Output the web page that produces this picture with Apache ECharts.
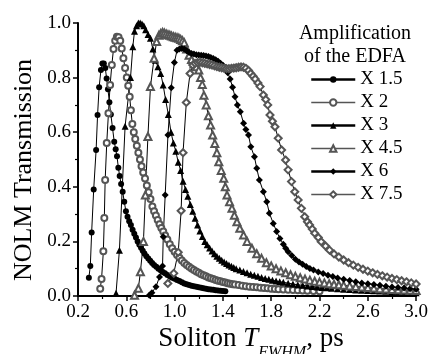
<!DOCTYPE html>
<html>
<head>
<meta charset="utf-8">
<script src="https://cdn.jsdelivr.net/npm/echarts@6/dist/echarts.min.js"></script>
<style>html,body{margin:0;background:#fff}#c{width:431px;height:354px}</style>
</head>
<body>
<div id="c"></div>
<script>
const FONT = '"Liberation Serif", "Times New Roman", serif'

// [T_FWHM (ps), transmission]
const s15 = [[0.29,0.067],[0.302,0.11],[0.313,0.233],[0.33,0.39],[0.35,0.535],[0.362,0.663],[0.375,0.765],[0.39,0.828],[0.402,0.852],[0.414,0.852],[0.426,0.835],[0.437,0.797],[0.448,0.757],[0.46,0.71],[0.472,0.665],[0.486,0.615],[0.5,0.565],[0.512,0.538],[0.523,0.512],[0.534,0.47],[0.545,0.44],[0.557,0.41],[0.57,0.382],[0.583,0.345],[0.597,0.31],[0.61,0.29],[0.624,0.274],[0.638,0.26],[0.652,0.243],[0.666,0.228],[0.68,0.214],[0.694,0.2],[0.708,0.188],[0.722,0.177],[0.736,0.166],[0.75,0.156],[0.766,0.146],[0.782,0.137],[0.798,0.129],[0.814,0.121],[0.83,0.114],[0.848,0.107],[0.866,0.1],[0.884,0.094],[0.902,0.088],[0.92,0.083],[0.94,0.077],[0.96,0.072],[0.98,0.067],[1.0,0.063],[1.02,0.059],[1.04,0.055],[1.06,0.05],[1.08,0.046],[1.1,0.043],[1.12,0.04],[1.14,0.038],[1.16,0.036],[1.18,0.034],[1.2,0.032],[1.22,0.03],[1.24,0.028],[1.26,0.027],[1.28,0.025],[1.3,0.024],[1.32,0.023],[1.34,0.021],[1.36,0.02],[1.38,0.019],[1.4,0.018],[1.42,0.017]]
const s2 = [[0.384,0.027],[0.395,0.062],[0.41,0.164],[0.418,0.286],[0.425,0.425],[0.438,0.56],[0.452,0.669],[0.466,0.773],[0.48,0.846],[0.494,0.905],[0.508,0.935],[0.522,0.95],[0.536,0.948],[0.55,0.935],[0.562,0.907],[0.576,0.871],[0.59,0.835],[0.604,0.8],[0.616,0.77],[0.628,0.73],[0.638,0.68],[0.65,0.63],[0.662,0.6],[0.674,0.575],[0.687,0.55],[0.7,0.525],[0.713,0.5],[0.726,0.475],[0.74,0.452],[0.755,0.43],[0.77,0.405],[0.785,0.38],[0.8,0.355],[0.816,0.328],[0.83,0.31],[0.845,0.295],[0.86,0.278],[0.875,0.263],[0.89,0.249],[0.906,0.236],[0.922,0.222],[0.94,0.207],[0.96,0.19],[0.98,0.175],[1.0,0.162],[1.02,0.15],[1.04,0.14],[1.06,0.13],[1.08,0.121],[1.1,0.114],[1.12,0.107],[1.14,0.101],[1.16,0.095],[1.18,0.09],[1.2,0.085],[1.22,0.08],[1.24,0.076],[1.26,0.072],[1.28,0.068],[1.3,0.065],[1.32,0.062],[1.34,0.059],[1.36,0.056],[1.38,0.054],[1.4,0.051],[1.42,0.049],[1.44,0.047],[1.46,0.045],[1.48,0.043],[1.5,0.042],[1.53,0.04],[1.56,0.038],[1.59,0.036],[1.62,0.034],[1.65,0.033],[1.68,0.032],[1.71,0.03],[1.74,0.029],[1.77,0.028],[1.8,0.027],[1.83,0.026],[1.86,0.025],[1.9,0.024],[1.94,0.023],[1.98,0.022],[2.02,0.021],[2.06,0.02],[2.1,0.019],[2.15,0.018],[2.2,0.017]]
const s3 = [[0.515,0.01],[0.543,0.168],[0.59,0.622],[0.635,0.8],[0.654,0.913],[0.668,0.97],[0.685,0.99],[0.7,1.0],[0.715,1.0],[0.73,0.996],[0.745,0.99],[0.76,0.975],[0.78,0.958],[0.8,0.944],[0.82,0.905],[0.84,0.864],[0.862,0.84],[0.885,0.815],[0.905,0.773],[0.925,0.72],[0.948,0.665],[0.97,0.6],[0.99,0.56],[1.01,0.53],[1.03,0.49],[1.05,0.46],[1.07,0.42],[1.09,0.39],[1.11,0.365],[1.13,0.335],[1.15,0.31],[1.17,0.285],[1.19,0.26],[1.21,0.238],[1.23,0.218],[1.25,0.2],[1.27,0.188],[1.29,0.176],[1.31,0.165],[1.33,0.155],[1.35,0.146],[1.37,0.138],[1.39,0.131],[1.41,0.125],[1.43,0.119],[1.45,0.114],[1.47,0.109],[1.49,0.104],[1.51,0.1],[1.54,0.095],[1.57,0.09],[1.6,0.085],[1.63,0.08],[1.66,0.076],[1.69,0.072],[1.72,0.068],[1.75,0.064],[1.78,0.061],[1.81,0.058],[1.84,0.055],[1.87,0.052],[1.9,0.05],[1.94,0.047],[1.98,0.044],[2.02,0.041],[2.06,0.039],[2.1,0.037],[2.14,0.035],[2.18,0.033],[2.22,0.031],[2.26,0.03],[2.3,0.028],[2.35,0.027],[2.4,0.025],[2.45,0.024],[2.5,0.022],[2.55,0.021],[2.6,0.02],[2.65,0.019],[2.7,0.018],[2.75,0.017],[2.8,0.016],[2.85,0.015],[2.9,0.014],[2.95,0.013],[3.0,0.012]]
const s45 = [[0.668,0.003],[0.7,0.028],[0.717,0.089],[0.742,0.2],[0.758,0.37],[0.779,0.584],[0.8,0.767],[0.83,0.871],[0.851,0.932],[0.87,0.955],[0.885,0.962],[0.9,0.965],[0.915,0.963],[0.93,0.96],[0.945,0.957],[0.96,0.955],[0.975,0.952],[0.99,0.95],[1.005,0.948],[1.02,0.946],[1.035,0.944],[1.05,0.94],[1.065,0.935],[1.08,0.928],[1.1,0.905],[1.12,0.882],[1.14,0.866],[1.16,0.85],[1.18,0.84],[1.2,0.828],[1.215,0.8],[1.229,0.775],[1.243,0.735],[1.262,0.7],[1.28,0.66],[1.298,0.626],[1.315,0.59],[1.333,0.559],[1.35,0.525],[1.366,0.492],[1.386,0.46],[1.407,0.431],[1.42,0.4],[1.434,0.37],[1.455,0.345],[1.475,0.321],[1.495,0.296],[1.516,0.272],[1.54,0.248],[1.571,0.223],[1.6,0.2],[1.64,0.175],[1.68,0.155],[1.72,0.138],[1.76,0.122],[1.8,0.11],[1.84,0.1],[1.88,0.092],[1.92,0.085],[1.96,0.078],[2.0,0.072],[2.04,0.067],[2.08,0.062],[2.12,0.058],[2.16,0.054],[2.2,0.051],[2.24,0.048],[2.28,0.045],[2.32,0.043],[2.36,0.041],[2.4,0.039],[2.45,0.037],[2.5,0.035],[2.55,0.033],[2.6,0.031],[2.65,0.029],[2.7,0.027],[2.75,0.026],[2.8,0.024],[2.85,0.023],[2.9,0.022],[2.95,0.021],[3.0,0.02]]
const s6 = [[0.79,0.003],[0.812,0.012],[0.846,0.034],[0.875,0.07],[0.9,0.11],[0.906,0.217],[0.922,0.37],[0.945,0.59],[0.972,0.763],[0.998,0.855],[1.02,0.9],[1.04,0.905],[1.06,0.907],[1.08,0.905],[1.1,0.898],[1.12,0.892],[1.14,0.888],[1.16,0.886],[1.18,0.884],[1.2,0.883],[1.22,0.882],[1.24,0.881],[1.26,0.879],[1.28,0.877],[1.3,0.874],[1.32,0.87],[1.34,0.865],[1.36,0.86],[1.38,0.853],[1.4,0.845],[1.42,0.835],[1.44,0.818],[1.46,0.795],[1.48,0.765],[1.5,0.73],[1.52,0.7],[1.544,0.675],[1.571,0.633],[1.59,0.61],[1.612,0.59],[1.631,0.547],[1.661,0.51],[1.68,0.468],[1.702,0.425],[1.735,0.382],[1.763,0.345],[1.785,0.303],[1.817,0.266],[1.845,0.236],[1.872,0.211],[1.9,0.19],[1.92,0.175],[1.94,0.162],[1.97,0.148],[2.0,0.135],[2.03,0.125],[2.06,0.116],[2.09,0.108],[2.12,0.101],[2.15,0.095],[2.19,0.088],[2.23,0.082],[2.27,0.076],[2.31,0.071],[2.35,0.066],[2.4,0.061],[2.45,0.057],[2.5,0.052],[2.55,0.048],[2.6,0.045],[2.65,0.042],[2.7,0.039],[2.75,0.036],[2.8,0.033],[2.85,0.031],[2.9,0.029],[2.95,0.027],[3.0,0.025]]
const s75 = [[0.944,0.046],[0.993,0.083],[1.03,0.16],[1.054,0.312],[1.07,0.525],[1.097,0.709],[1.128,0.815],[1.15,0.846],[1.17,0.852],[1.19,0.855],[1.21,0.856],[1.23,0.854],[1.25,0.852],[1.27,0.85],[1.29,0.848],[1.31,0.846],[1.33,0.843],[1.35,0.84],[1.37,0.838],[1.39,0.836],[1.41,0.834],[1.43,0.833],[1.45,0.833],[1.47,0.834],[1.49,0.835],[1.51,0.836],[1.53,0.838],[1.55,0.839],[1.57,0.838],[1.59,0.834],[1.612,0.826],[1.63,0.815],[1.65,0.805],[1.667,0.795],[1.69,0.78],[1.708,0.767],[1.735,0.736],[1.755,0.72],[1.771,0.7],[1.79,0.663],[1.81,0.64],[1.831,0.62],[1.858,0.578],[1.886,0.535],[1.919,0.498],[1.94,0.462],[1.968,0.419],[1.995,0.382],[2.023,0.352],[2.05,0.321],[2.077,0.29],[2.1,0.272],[2.118,0.26],[2.14,0.245],[2.16,0.23],[2.19,0.214],[2.214,0.199],[2.25,0.183],[2.283,0.168],[2.32,0.154],[2.36,0.143],[2.4,0.132],[2.44,0.122],[2.48,0.113],[2.52,0.105],[2.56,0.098],[2.6,0.091],[2.64,0.085],[2.68,0.079],[2.72,0.074],[2.76,0.069],[2.8,0.064],[2.84,0.06],[2.88,0.056],[2.92,0.052],[2.96,0.048],[3.0,0.044]]

const names = ['X 1.5', 'X 2', 'X 3', 'X 4.5', 'X 6', 'X 7.5']
const symbols = ['circle', 'emptyCircle', 'triangle', 'emptyTriangle', 'diamond', 'emptyDiamond']
const sizes = [6, 6, 7, 7, 7, 7]
const sets = [s15, s2, s3, s45, s6, s75]

const chart = echarts.init(document.getElementById('c'))

const axisCommon = {
  axisLine: { show: true, onZero: false, lineStyle: { color: '#000', width: 2 } },
  axisTick: { show: true, inside: false, length: 5, lineStyle: { color: '#000', width: 1.5 } },
  minorTick: { show: true, splitNumber: 2, length: 3, lineStyle: { color: '#000', width: 1.2 } },
  splitLine: { show: false },
  axisLabel: { color: '#000', fontFamily: FONT, fontSize: 19, margin: 7, formatter: v => v.toFixed(1) },
}

chart.setOption({
  animation: false,
  backgroundColor: '#fff',
  grid: { left: 78, right: 13, top: 23, bottom: 58 },
  xAxis: { type: 'value', min: 0.2, max: 3.0, interval: 0.4, ...axisCommon },
  yAxis: { type: 'value', min: 0, max: 1.0, interval: 0.2, ...axisCommon },
  legend: {
    orient: 'vertical', left: 310, top: 70, padding: 0,
    itemWidth: 44, itemHeight: 8, itemGap: 4,
    textStyle: { color: '#000', fontFamily: FONT, fontSize: 19, lineHeight: 18 },
    data: names.map((n, i) => ({
      name: n,
      lineStyle: i % 2 === 0 ? { color: '#000', width: 2.5 } : { color: '#555', width: 1.5 },
    })),
  },
  graphic: [
    {
      type: 'text', x: 355, y: 22,
      style: { text: 'Amplification\nof the EDFA', font: '20px ' + FONT, fill: '#000', align: 'center', verticalAlign: 'top', lineHeight: 23 },
    },
    {
      type: 'text', x: 24, y: 170, rotation: Math.PI / 2,
      style: { text: 'NOLM Transmission', font: '26px ' + FONT, fill: '#000', align: 'center', verticalAlign: 'middle' },
    },
    {
      type: 'text', x: 251, y: 325,
      style: {
        text: '{a|Soliton }{b|T}{c|FWHM}{a|, ps}',
        align: 'center', verticalAlign: 'top',
        rich: {
          a: { font: '27px ' + FONT, fill: '#000', lineHeight: 30, verticalAlign: 'top' },
          b: { font: 'italic 27px ' + FONT, fill: '#000', lineHeight: 30, verticalAlign: 'top' },
          c: { font: 'italic 16px ' + FONT, fill: '#000', lineHeight: 16, padding: [20, 0, 0, 0], verticalAlign: 'top' },
        },
      },
    },
  ],
  series: sets.map((d, i) => ({
    name: names[i],
    type: 'line',
    data: d,
    symbol: symbols[i],
    symbolSize: sizes[i],
    showAllSymbol: true,
    itemStyle: i % 2 === 0 ? { color: '#000' } : { color: '#555', borderWidth: 1 },
    lineStyle: { color: '#000', width: 1 },
  })),
})
</script>
</body>
</html>
